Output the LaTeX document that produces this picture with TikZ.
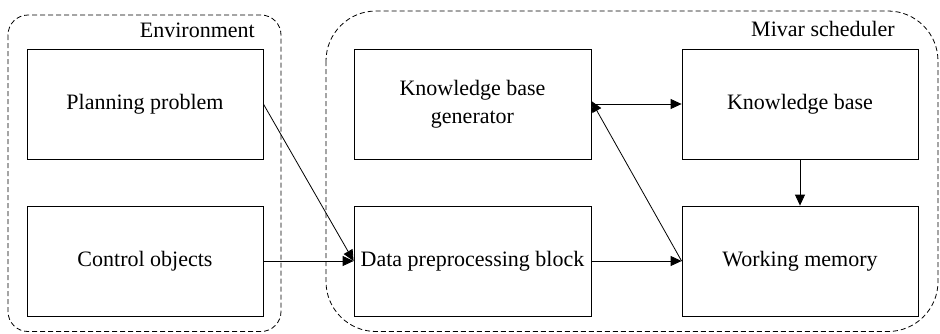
\documentclass[tikz,border=0pt]{standalone}
\usepackage{fontspec}
\setmainfont{Liberation Serif}
\newfontfamily\diagfont{Liberation Serif}
\usetikzlibrary{arrows.meta}
\begin{document}
\begin{tikzpicture}[x=1pt,y=-1pt,
  blockbox/.style={draw, line width=0.8pt, minimum width=236pt, minimum height=110pt, inner sep=0pt, align=center, font=\diagfont\fontsize{22}{28}\selectfont},
  groupbox/.style={draw, line width=0.8pt, dash pattern=on 5pt off 3pt},
  grouplabel/.style={anchor=base east, inner sep=0pt, font=\diagfont\fontsize{22}{28}\selectfont},
  conn/.style={line width=0.8pt, -{Triangle[length=11pt,width=10pt]}}]
\useasboundingbox (0,0) rectangle (940,333);
\draw[groupbox, rounded corners=20pt] (8,15) rectangle (281,331.5);
\draw[groupbox, rounded corners=50pt] (326,11) rectangle (938,331.5);
\node[grouplabel] (envlabel) at (255,37) {Environment};
\node[grouplabel] (mivlabel) at (895,36) {Mivar scheduler};
\node[blockbox] (pp) at (145,104) {Planning problem};
\node[blockbox] (co) at (145,261) {Control objects};
\node[blockbox, minimum width=237pt] (kbg) at (472.5,104) {Knowledge base\\generator};
\node[blockbox, minimum width=237pt] (dpb) at (472.5,261) {Data preprocessing block};
\node[blockbox] (kb) at (800,104) {Knowledge base};
\node[blockbox] (wm) at (800,261) {Working memory};
\draw[conn] (pp.east) -- (dpb.west);
\draw[conn] (co.east) -- (dpb.west);
\draw[conn] (kbg.east) -- (kb.west);
\draw[conn] (dpb.east) -- (wm.west);
\draw[conn] (kb.south) -- (wm.north);
\draw[conn] (wm.west) -- ([yshift=3pt]kbg.east);
\end{tikzpicture}
\end{document}
